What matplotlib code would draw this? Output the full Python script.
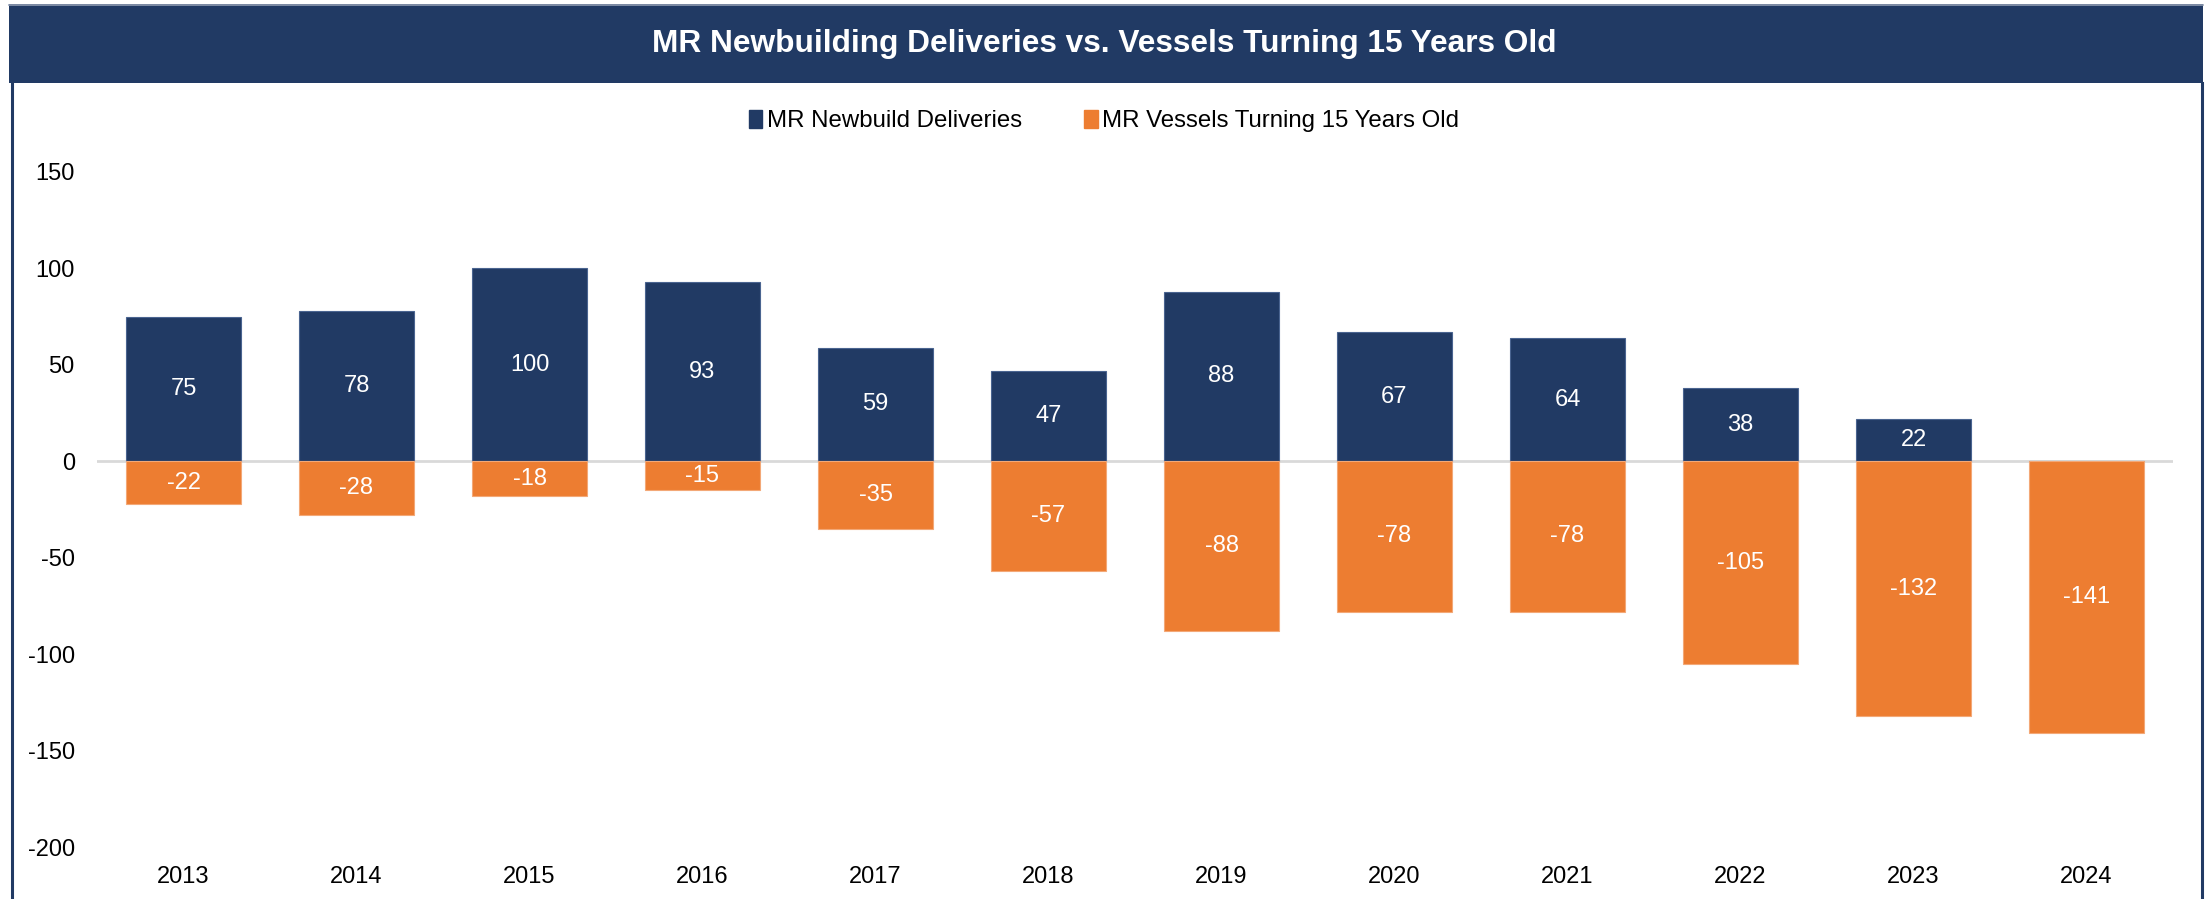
import matplotlib
matplotlib.use("Agg")
import matplotlib.pyplot as plt
from matplotlib.patches import Rectangle
from matplotlib.lines import Line2D

years = ["2013", "2014", "2015", "2016", "2017", "2018", "2019", "2020", "2021", "2022", "2023", "2024"]
newbuild = [75, 78, 100, 93, 59, 47, 88, 67, 64, 38, 22, 0]
turning15 = [-22, -28, -18, -15, -35, -57, -88, -78, -78, -105, -132, -141]
yticks = [150, 100, 50, 0, -50, -100, -150, -200]

title = "MR Newbuilding Deliveries vs. Vessels Turning 15 Years Old"
label_nb = "MR Newbuild Deliveries"
label_t15 = "MR Vessels Turning 15 Years Old"

NAVY = "#213A64"
ORANGE = "#ED7D31"

plt.rcParams['font.family'] = ['Liberation Sans', 'DejaVu Sans']

W, H = 2208, 899
fig = plt.figure(figsize=(W / 100, H / 100), dpi=100)
fig.patch.set_facecolor("white")

def fx(px):
    return px / W

def fy(py):
    return 1 - py / H

# Title band
fig.patches.append(Rectangle((fx(9), fy(83)), fx(2203) - fx(9), fy(4) - fy(83),
                             transform=fig.transFigure, facecolor=NAVY, edgecolor="none", zorder=0))
fig.lines.append(Line2D([fx(9), fx(2203)], [fy(4.5), fy(4.5)], transform=fig.transFigure,
                        color="#8F9BB0", lw=1.2))
# side borders
fig.lines.append(Line2D([fx(11.5), fx(11.5)], [fy(83), 0], transform=fig.transFigure, color=NAVY, lw=2.2))
fig.lines.append(Line2D([fx(2201.8), fx(2201.8)], [fy(83), 0], transform=fig.transFigure, color=NAVY, lw=2.2))

fig.text(0.5, fy(44), title, color="white", fontsize=22.8, fontweight="bold",
         ha="center", va="center")

ax = fig.add_axes([fx(97), fy(847), fx(2173) - fx(97), fy(172) - fy(847)])
x = list(range(len(years)))
bw = 0.67
b1 = ax.bar(x, newbuild, width=bw, color=NAVY, edgecolor="#4A6490", linewidth=0.8,
            label=label_nb, zorder=2)
b2 = ax.bar(x, turning15, width=bw, color=ORANGE, edgecolor="#F3A877", linewidth=0.8,
            label=label_t15, zorder=2)

for xi, v in zip(x, newbuild):
    if v != 0:
        ax.text(xi, v / 2, f"{v}", color="white", fontsize=17, ha="center", va="center", zorder=3)
for xi, v in zip(x, turning15):
    if v != 0:
        ax.text(xi, v / 2, f"{v}", color="white", fontsize=17, ha="center", va="center", zorder=3)

ax.axhline(0, color="#D9D9D9", lw=2, zorder=1)
ax.set_xlim(-0.5, len(years) - 0.5)
ax.set_ylim(-200, 150)
ax.set_yticks(yticks)
ax.set_yticklabels([str(t) for t in yticks])
ax.set_xticks(x)
ax.set_xticklabels(years)
ax.tick_params(axis="both", length=0, labelsize=17, colors="black")
ax.tick_params(axis="y", pad=16)
ax.tick_params(axis="x", pad=14)
for s in ax.spines.values():
    s.set_visible(False)

handles = [Rectangle((0, 0), 1, 1, color=NAVY), Rectangle((0, 0), 1, 1, color=ORANGE)]
fig.legend(handles, [label_nb, label_t15], loc="center", bbox_to_anchor=(0.5, fy(121)),
           ncol=2, frameon=False, fontsize=17.3, handlelength=0.55, handleheight=0.75,
           handletextpad=0.2, columnspacing=2.6)

fig.savefig("out.png", dpi=100)
